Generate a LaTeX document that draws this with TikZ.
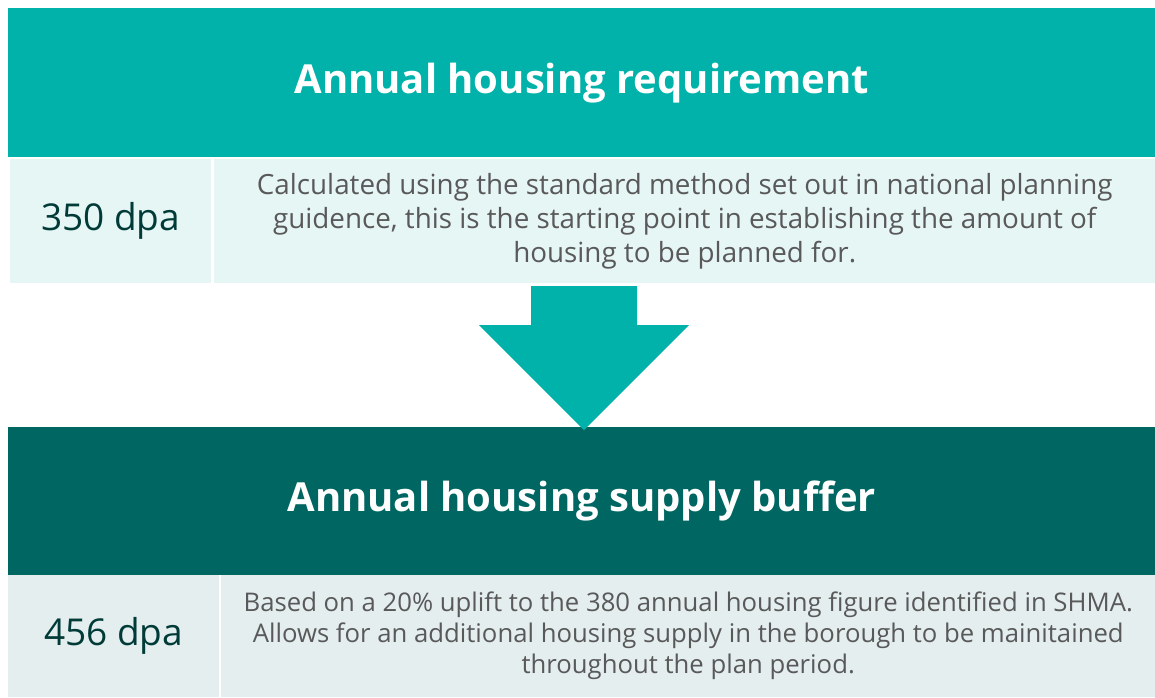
\documentclass[tikz,border=0pt]{standalone}
\usepackage{fontspec}
\setmainfont{Open Sans}
\usetikzlibrary{positioning}
\definecolor{topteal}{HTML}{00B2A9}
\definecolor{darkteal}{HTML}{006662}
\definecolor{lighttop}{HTML}{E6F6F5}
\definecolor{lightbot}{HTML}{E4EEEF}
\definecolor{dpatext}{HTML}{003B38}
\definecolor{desctext}{HTML}{595959}

\begin{document}
\begin{tikzpicture}[
x=1pt, y=-1pt,
header/.style={rectangle,
anchor=north west,
minimum width=1147pt,
minimum height=149pt,
inner sep=0pt,
text=white,
font=\fontsize{40}{44}\selectfont\bfseries},
valbox/.style={rectangle,
anchor=north west,
minimum height=124pt,
inner sep=0pt,
text=dpatext,
font=\fontsize{37}{40}\selectfont},
descbox/.style={rectangle,
anchor=north west,
minimum height=124pt,
inner sep=0pt,
text=desctext,
align=center}
]
\useasboundingbox[fill=white] (0,0) rectangle (1155,697);

\node[header, fill=topteal] (req) at (8,8) {Annual housing requirement};
\node[valbox, fill=lighttop, minimum width=201pt] (reqval) at (10,159) {350 dpa};
\node[descbox, fill=lighttop, minimum width=941pt,
font=\fontsize{27.8}{34}\selectfont] (reqdesc) at (214,159)
{Calculated using the standard method set out in national planning\\
guidence, this is the starting point in establishing the amount of\\
housing to be planned for.};

\node[header, fill=darkteal, minimum height=148pt] (buf) at (8,427) {Annual housing supply buffer};
\node[valbox, fill=lightbot, minimum width=211pt, minimum height=122pt] (bufval) at (8,575) {456 dpa};
\node[descbox, fill=lightbot, minimum width=934pt, minimum height=122pt,
font=\fontsize{25.7}{31}\selectfont] (bufdesc) at (221,575)
{Based on a 20\% uplift to the 380 annual housing figure identified in SHMA.\\
Allows for an additional housing supply in the borough to be mainitained\\
throughout the plan period.};

% down arrow
\coordinate (tip) at (584,430);
\fill[topteal] (531,286) -- (637,286) -- (637,325) -- (689,325) -- (tip)
-- (479,325) -- (531,325) -- cycle;

\end{tikzpicture}
\end{document}
